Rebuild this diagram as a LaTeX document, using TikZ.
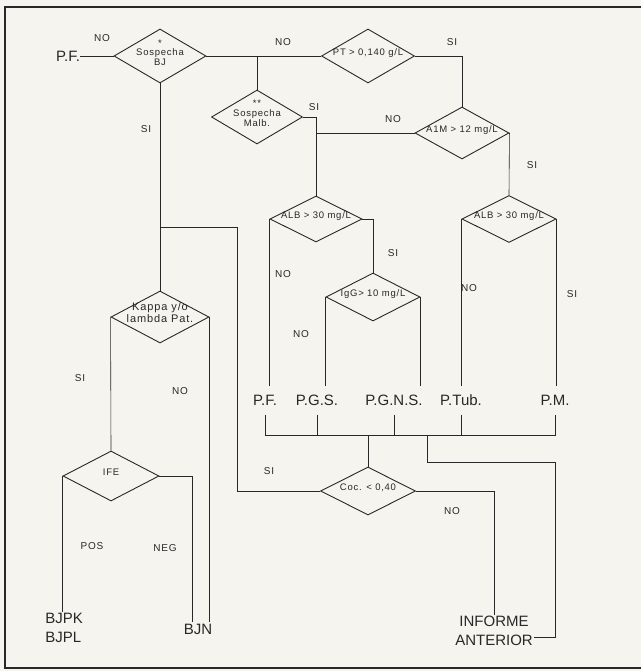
\documentclass[tikz,border=0pt]{standalone}
\usepackage{fontspec}
\setmainfont{Liberation Sans}
\newfontfamily\widesans[LetterSpace=8]{Liberation Sans}
\usetikzlibrary{shapes.geometric}
\definecolor{paper}{RGB}{245,244,238}
\definecolor{ink}{RGB}{40,40,40}
% text of a test, kept out of the size of its diamond
\newcommand{\dtext}[1]{\makebox[0pt]{\raisebox{0pt}[0pt][0pt]{\begin{tabular}{@{}c@{}}#1\end{tabular}}}}
\begin{document}
\begin{tikzpicture}[x=1pt, y=-1pt, color=ink, line width=0.6pt,
  test/.style 2 args={diamond, draw, line width=0.9pt, inner sep=0pt,
    minimum width=#1pt, minimum height=#2pt, font=\widesans\fontsize{9.5}{9.5}\selectfont},
  result/.style={inner sep=0pt, outer ysep=9pt, text height=11pt, text depth=0pt,
    font=\fontsize{15}{18}\selectfont},
  result2/.style={inner sep=1pt, font=\fontsize{15}{19}\selectfont},
  answer/.style={inner sep=1pt, font=\widesans\fontsize{10}{11}\selectfont}]
  \useasboundingbox (0,0) rectangle (641,671);
  \fill[paper] (0,0) rectangle (641,671);
  \draw[line width=1.4pt] (641,7) -- (5,7) -- (5,668) -- (641,668);
  % tests
  \node[test={92}{54}] (bj) at (160,56) {\dtext{*\\Sospecha\\BJ}};
  \node[test={93}{54}] (pt) at (368,56) {\dtext{PT > 0,140 g/L}};
  \node[test={91}{54}] (malb) at (257,117) {\dtext{**\\Sospecha\\Malb.}};
  \node[test={94}{52}] (a1m) at (462,133) {\dtext{A1M > 12 mg/L}};
  \node[test={92}{46}] (alb1) at (316,219) {\dtext{ALB > 30 mg/L}};
  \node[test={94}{47}] (alb2) at (509,219) {\dtext{ALB > 30 mg/L}};
  \node[test={94}{48}] (igg) at (373,297) {\dtext{IgG> 10 mg/L}};
  \node[test={98}{52}, font=\widesans\fontsize{11}{11.5}\selectfont] (kappa) at (160,317) {\dtext{Kappa y/o\\lambda Pat.}};
  \node[test={96}{50}] (ife) at (111,476) {\dtext{IFE}};
  \node[test={95}{48}] (coc) at (368,491) {\dtext{Coc. < 0,40}};
  % results
  \node[result] (pf0) at (68,56) {P.F.};
  \node[result] (pf1) at (265,400) {P.F.};
  \node[result] (pgs) at (317,400) {P.G.S.};
  \node[result] (pgns) at (394,400) {P.G.N.S.};
  \node[result] (ptub) at (461,400) {P.Tub.};
  \node[result] (pm) at (555,400) {P.M.};
  \node[result2, align=left, anchor=west] (bjp) at (44,628) {BJPK\\BJPL};
  \node[result2] (bjn) at (198,629) {BJN};
  \node[result2, align=center] (inf) at (494,631) {INFORME\\ANTERIOR};
  \coordinate (bus) at (368,435);
  \coordinate (tap) at (427,435);
  \coordinate (elbow) at (555,462);
  \coordinate (jsi) at (237,227);
  % connectors
  \draw (pf0.east) -- (bj.west);
  \draw (bj.east) -- (pt.west);
  \draw (malb.north) -- (malb.north |- bj.east);
  \draw (bj.south) -- (kappa.north);
  \draw (coc.west) -| (jsi) -- (kappa.north |- jsi);
  \draw (pt.east) -| (a1m.north);
  \draw (malb.east) -| (alb1.north);
  \draw (a1m.west) -- (alb1.north |- a1m.west);
  \draw (a1m.east) -- (alb2.north);
  \draw (alb1.west) -- (alb1.west |- pf1.north);
  \draw (alb1.east) -| (igg.north);
  \draw (igg.west) -- (igg.west |- pgs.north);
  \draw (igg.east) -- (igg.east |- pgns.north);
  \draw (alb2.west) -- (alb2.west |- ptub.north);
  \draw (alb2.east) -- (alb2.east |- pm.north);
  \draw (pf1.south) |- (pm.south |- bus) -- (pm.south);
  \foreach \n in {pgs,pgns,ptub}
    \draw (\n.south) -- (\n.south |- bus);
  \draw (coc.north) -- (bus);
  \draw (tap) |- (elbow) |- ([yshift=-6pt]inf.east);
  \draw (coc.east) -| (inf.north);
  \draw (kappa.west) -- (ife.north);
  \draw (kappa.east) -- (kappa.east |- bjn.north);
  \draw (ife.west) -- (ife.west |- bjp.north);
  \draw (ife.east) -| ([xshift=-6pt]bjn.north);
  % answers
  \node[answer] (a1) at (102,38) {NO};
  \node[answer] (a2) at (283,42) {NO};
  \node[answer] (a3) at (146,129) {SI};
  \node[answer] (a4) at (314,107) {SI};
  \node[answer] (a5) at (452,42) {SI};
  \node[answer] (a6) at (393,119) {NO};
  \node[answer] (a7) at (532,165) {SI};
  \node[answer] (a8) at (283,274) {NO};
  \node[answer] (a9) at (393,253) {SI};
  \node[answer] (a10) at (301,334) {NO};
  \node[answer] (a11) at (469,288) {NO};
  \node[answer] (a12) at (572,294) {SI};
  \node[answer] (a13) at (80,378) {SI};
  \node[answer] (a14) at (180,391) {NO};
  \node[answer] (a15) at (92,546) {POS};
  \node[answer] (a16) at (165,548) {NEG};
  \node[answer] (a17) at (269,471) {SI};
  \node[answer] (a18) at (452,511) {NO};
\end{tikzpicture}
\end{document}
